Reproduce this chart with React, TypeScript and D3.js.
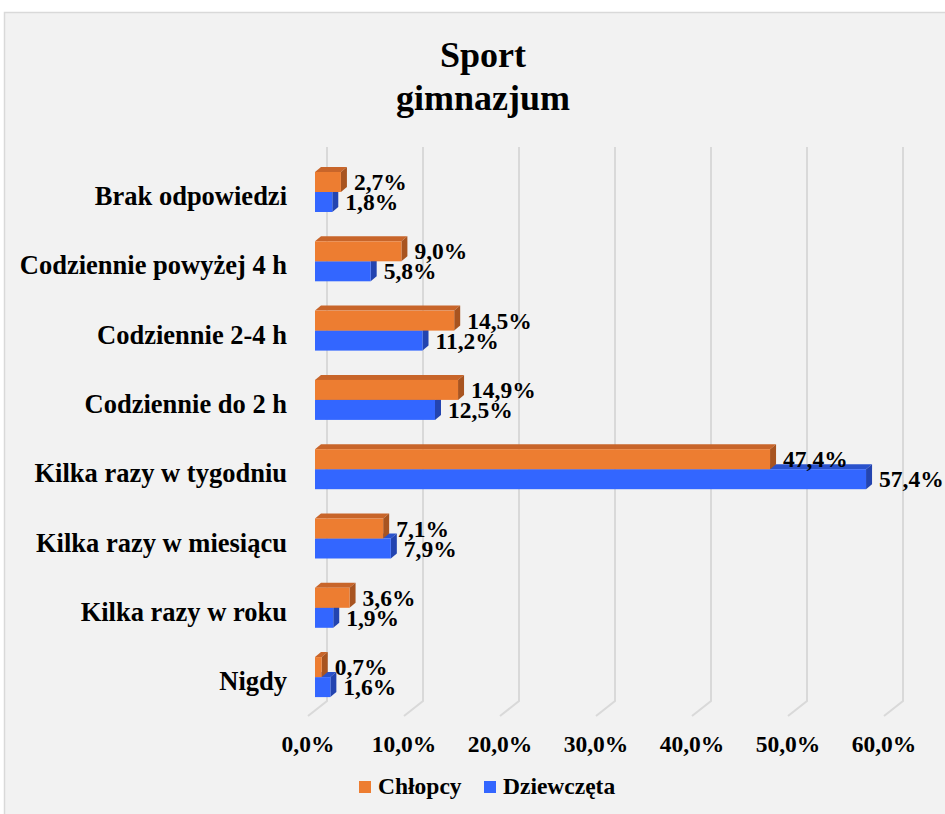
import { useEffect, useRef } from 'react';
import * as d3 from 'd3';

const categories = [
  'Brak odpowiedzi',
  'Codziennie powyżej 4 h',
  'Codziennie 2-4 h',
  'Codziennie do 2 h',
  'Kilka razy w tygodniu',
  'Kilka razy w miesiącu',
  'Kilka razy w roku',
  'Nigdy',
];
const chlopcy = [2.7, 9.0, 14.5, 14.9, 47.4, 7.1, 3.6, 0.7];
const dziewczeta = [1.8, 5.8, 11.2, 12.5, 57.4, 7.9, 1.9, 1.6];
const tickValues = [0, 10, 20, 30, 40, 50, 60];
const seriesNames = ['Chłopcy', 'Dziewczęta'];

const fmt = (v: number) => d3.format('.1f')(v).replace('.', ',') + '%';

export default function App() {
  const ref = useRef<SVGSVGElement | null>(null);

  useEffect(() => {
    if (!ref.current) return;
    const svg = d3.select(ref.current);
    svg.selectAll('*').remove();

    const width = 945;
    const height = 814;
    const font = '"Liberation Serif", "Times New Roman", serif';

    svg.attr('width', width).attr('height', height);

    svg.append('rect')
      .attr('x', 4.5)
      .attr('y', 12.5)
      .attr('width', width)
      .attr('height', height)
      .attr('fill', '#f2f2f2')
      .attr('stroke', '#d9d9d9')
      .attr('stroke-width', 1.5);

    // title
    const title = svg.append('text')
      .attr('text-anchor', 'middle')
      .attr('font-family', font)
      .attr('font-weight', 'bold')
      .attr('font-size', '36px')
      .attr('fill', '#000');
    title.append('tspan').attr('x', 483).attr('y', 67).text('Sport');
    title.append('tspan').attr('x', 483).attr('y', 110).text('gimnazjum');

    // front face scale
    const x = d3.scaleLinear().domain([0, 60]).range([315, 891]);
    const backDx = 12;
    const floorDx = -7;
    const y = d3.scaleBand<string>().domain(categories).range([157.35, 711.75]).padding(0);
    const center = (c: string) => (y(c) ?? 0) + y.bandwidth() / 2;

    const gridTop = 147;
    const gridBottom = 701;

    // grid lines on the back wall + floor diagonals
    const grid = svg.append('g');
    tickValues.forEach((t) => {
      const bx = x(t) + backDx;
      const fx = x(t) + floorDx;
      grid.append('path')
        .attr('d', `M${bx},${gridTop}L${bx},${gridBottom}L${fx},${gridBottom + 15}`)
        .attr('fill', 'none')
        .attr('stroke', '#d9d9d9')
        .attr('stroke-width', 2);
    });

    // axis labels
    svg.append('g')
      .selectAll('text')
      .data(tickValues)
      .join('text')
      .attr('x', (d) => x(d) + floorDx)
      .attr('y', 752)
      .attr('text-anchor', 'middle')
      .attr('font-family', font)
      .attr('font-weight', 'bold')
      .attr('font-size', '23.5px')
      .text((d) => fmt(d));

    // category labels
    svg.append('g')
      .selectAll('text')
      .data(categories)
      .join('text')
      .attr('x', 287)
      .attr('y', (d) => center(d) + 13)
      .attr('text-anchor', 'end')
      .attr('font-family', font)
      .attr('font-weight', 'bold')
      .attr('font-size', '26.5px')
      .text((d) => d);

    const dx = 6;
    const dy = -5;
    const barH = 20;

    const drawBar = (
      g: d3.Selection<SVGGElement, unknown, null, undefined>,
      top: number,
      value: number,
      colors: { front: string; top: string; side: string }
    ) => {
      const x0 = x(0);
      const x1 = x(value);
      g.append('path')
        .attr('d', `M${x0},${top}L${x0 + dx},${top + dy}L${x1 + dx},${top + dy}L${x1},${top}Z`)
        .attr('fill', colors.top);
      g.append('path')
        .attr('d', `M${x1},${top}L${x1 + dx},${top + dy}L${x1 + dx},${top + dy + barH}L${x1},${top + barH}Z`)
        .attr('fill', colors.side);
      g.append('rect')
        .attr('x', x0)
        .attr('y', top)
        .attr('width', x1 - x0)
        .attr('height', barH)
        .attr('fill', colors.front);
    };

    const orange = { front: '#ed7d31', top: '#c8652a', side: '#a85420' };
    const blue = { front: '#3366ff', top: '#2a52cc', side: '#2344b0' };

    const bars = svg.append('g');
    categories.forEach((c, i) => {
      const cy = center(c);
      const g = bars.append('g');
      drawBar(g, cy, dziewczeta[i], blue);
      drawBar(g, cy - barH, chlopcy[i], orange);
    });

    // data labels
    const labels = svg.append('g')
      .attr('font-family', font)
      .attr('font-weight', 'bold')
      .attr('font-size', '23.5px');
    categories.forEach((c, i) => {
      const cy = center(c);
      labels.append('text')
        .attr('x', x(chlopcy[i]) + 13)
        .attr('y', cy - 2)
        .text(fmt(chlopcy[i]));
      labels.append('text')
        .attr('x', x(dziewczeta[i]) + 13)
        .attr('y', cy + 18)
        .text(fmt(dziewczeta[i]));
    });

    // legend
    const legend = svg.append('g')
      .attr('font-family', font)
      .attr('font-weight', 'bold')
      .attr('font-size', '23.5px');
    const legendX = [359, 484];
    seriesNames.forEach((name, i) => {
      legend.append('rect')
        .attr('x', legendX[i])
        .attr('y', 781)
        .attr('width', 12)
        .attr('height', 12)
        .attr('fill', i === 0 ? orange.front : blue.front);
      legend.append('text')
        .attr('x', legendX[i] + 19)
        .attr('y', 794)
        .text(name);
    });
  }, []);

  return (
    <svg ref={ref} style={{ position: 'absolute', left: 0, top: 0, display: 'block' }}></svg>
  );
}
